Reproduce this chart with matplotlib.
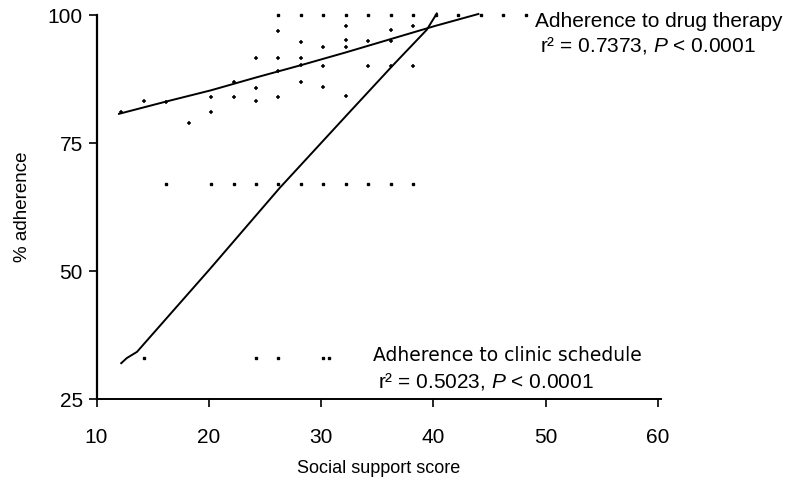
# scatter of adherence vs social support score, two fitted lines
import matplotlib.pyplot as plt

plt.rcParams['font.family'] = ['Liberation Sans', 'DejaVu Sans']
plt.rcParams['mathtext.fontset'] = 'custom'
plt.rcParams['mathtext.rm'] = 'Liberation Sans'
plt.rcParams['mathtext.it'] = 'Liberation Sans:italic'

# adherence to drug therapy (scattered points)
drug_x = [12.2, 14.2, 16.2, 18.2, 20.2, 20.2, 22.2, 22.2, 24.2, 24.2, 24.2,
          26.2, 26.2, 26.2, 26.2, 28.2, 28.2, 28.2, 28.2,
          30.2, 30.2, 30.2, 32.2, 32.2, 32.2, 32.2,
          34.2, 34.2, 36.2, 36.2, 36.2, 38.2, 38.2]
drug_y = [81.0, 83.2, 83.1, 79.0, 84.0, 81.0, 84.0, 86.9, 91.7, 85.8, 83.2,
          96.9, 91.7, 89.1, 84.0, 94.8, 91.7, 90.2, 86.9,
          93.8, 90.0, 86.0, 97.9, 95.2, 93.8, 84.2,
          94.9, 90.0, 97.1, 94.9, 90.0, 97.9, 90.0]

# adherence to clinic schedule (rows of points)
clinic_x = [26.2, 28.2, 30.2, 32.2, 34.2, 36.2, 38.2, 40.2, 42.2, 44.2, 46.2, 48.2,
            16.2, 20.2, 22.2, 24.2, 26.2, 28.2, 30.2, 32.2, 34.2, 36.2, 38.2,
            14.2, 24.2, 26.2, 30.2, 30.7]
clinic_y = [100] * 12 + [66.9] * 11 + [33.1] * 5

# fitted curves
drug_fit_x = [12.0, 16.2, 20.2, 24.2, 28.2, 32.2, 36.2, 40.2, 44.0]
drug_fit_y = [80.7, 83.1, 85.3, 87.8, 90.2, 92.7, 95.3, 97.9, 100.2]
clinic_fit_x = [12.2, 12.7, 13.6, 20.1, 26.3, 32.6, 36.4, 39.4, 40.3]
clinic_fit_y = [32.0, 33.0, 34.2, 50.4, 66.2, 81.2, 90.2, 97.1, 100.3]

fig = plt.figure(figsize=(7.86, 4.94), dpi=100)
ax = fig.add_axes([0.1228, 0.1923, 0.8415 - 0.1228, 0.9696 - 0.1923])

ax.plot(drug_x, drug_y, linestyle='none', marker='+', markersize=3.5,
        markeredgewidth=1.1, color='black', clip_on=False)
ax.plot(clinic_x, clinic_y, linestyle='none', marker='s', markersize=2.0,
        color='black', clip_on=False)
ax.plot(drug_fit_x, drug_fit_y, color='black', linewidth=1.4, clip_on=False)
ax.plot(clinic_fit_x, clinic_fit_y, color='black', linewidth=1.4, clip_on=False)

ax.set_xlim(10, 60.3)
ax.set_ylim(25, 100)
ax.set_xticks([10, 20, 30, 40, 50, 60])
ax.set_yticks([25, 50, 75, 100])
ax.spines['top'].set_visible(False)
ax.spines['right'].set_visible(False)
ax.spines['left'].set_linewidth(1.6)
ax.spines['bottom'].set_linewidth(1.4)
ax.tick_params(axis='both', direction='out', length=6, width=1.2, labelsize=15)
ax.tick_params(axis='x', pad=15)
ax.tick_params(axis='y', pad=4)

ax.set_xlabel('Social support score', fontsize=13, labelpad=9)
ax.set_ylabel('% adherence', fontsize=13.5, labelpad=12)

fig.text(535 / 786, 1 - 27 / 494, 'Adherence to drug therapy', fontsize=15,
         va='baseline', ha='left')
fig.text(540 / 786, 1 - 52 / 494, r'r² = 0.7373, $P$ < 0.0001', fontsize=15,
         va='baseline', ha='left')
fig.text(373 / 786, 1 - 361 / 494, 'Adherence to clinic schedule', fontsize=13.5,
         va='baseline', ha='left', family='DejaVu Sans')
fig.text(378 / 786, 1 - 388 / 494, r'r² = 0.5023, $P$ < 0.0001', fontsize=15,
         va='baseline', ha='left')

fig.savefig('out.png', dpi=100)
